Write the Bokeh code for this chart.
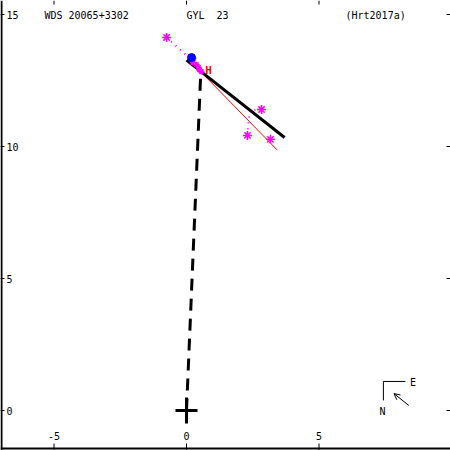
from bokeh.plotting import figure
from bokeh.models import Span, Arrow, OpenHead
from bokeh.core.properties import value
from bokeh.embed import file_html
from bokeh.resources import INLINE

# ---- data ----
title_labels = ["WDS 20065+3302", "GYL\u00a0\u00a023", "(Hrt2017a)"]
x_ticks = [-5, 0, 5]
y_ticks = [0, 5, 10, 15]

# observed positions (big asterisks) and their predicted positions (O-C lines)
obs_x = [-0.75, 2.83, 2.30, 3.17]
obs_y = [14.13, 11.40, 10.42, 10.27]
pred_x = [0.15, 2.55, 2.37, 3.35]
pred_y = [13.32, 11.38, 11.30, 10.36]

# cluster of observations near periastron
near_x = [0.26, 0.38, 0.49, 0.24, 0.45, 0.56]
near_y = [13.33, 13.10, 12.90, 13.18, 13.00, 12.84]

# first measurement (blue) and Hipparcos point (H)
first_x, first_y = [0.19], [13.37]
hip_x, hip_y = [0.83], [12.88]

# apparent orbit (edge-on), alternative orbit (red), line to periastron
orbit_x = [0.0, 3.70]
orbit_y = [13.27, 10.34]
alt_x = [0.50, 3.415]
alt_y = [12.87, 9.875]
node_x = [0.0, 0.53]
node_y = [0.0, 12.6]

# ---- layout ----
W = H = 450
PX, PY = 26.5, 26.4
x0 = -186 / PX
x1 = x0 + W / PX
y1 = 410 / PY
y0 = y1 - H / PY

FONT = value("DejaVu Sans Mono")

p = figure(width=W, height=H, x_range=(x0, x1), y_range=(y0, y1),
           output_backend="svg", toolbar_location=None,
           x_axis_location=None, y_axis_location=None, min_border=0)
p.grid.visible = False
p.outline_line_color = None
p.background_fill_color = "white"

# frame borders (left and bottom)
p.add_layout(Span(location=x0 + 1 / PX, dimension="height", line_color="black", line_width=2))
p.add_layout(Span(location=y0 + 2 / PY, dimension="width", line_color="black", line_width=2))

# ticks
p.segment(x0=[x0] * len(y_ticks), y0=y_ticks, x1=[x0 + 4 / PX] * len(y_ticks), y1=y_ticks,
          line_color="black", line_width=1)
p.segment(x0=[x1 - 4 / PX] * len(y_ticks), y0=y_ticks, x1=[x1] * len(y_ticks), y1=y_ticks,
          line_color="black", line_width=1)
p.segment(x0=x_ticks, y0=[y0] * len(x_ticks), x1=x_ticks, y1=[y0 + 7 / PY] * len(x_ticks),
          line_color="black", line_width=1)
p.segment(x0=x_ticks, y0=[y1 - 4 / PY] * len(x_ticks), x1=x_ticks, y1=[y1] * len(x_ticks),
          line_color="black", line_width=1)

# tick labels
p.text(x=[x0 + 6 / PX] * len(y_ticks), y=y_ticks, text=[str(v) for v in y_ticks],
       text_font=FONT, text_font_size="10px", text_baseline="middle", text_align="left",
       text_color="black")
p.text(x=x_ticks, y=[y0 + 15 / PY] * len(x_ticks), text=[str(v) for v in x_ticks],
       text_font=FONT, text_font_size="10px", text_baseline="middle", text_align="center",
       text_color="black")

# titles
p.text(x=[-5.36, 0.0, 6.0], y=[14.96] * 3, text=title_labels,
       text_font=FONT, text_font_size="10px", text_baseline="middle", text_align="left",
       text_color="black")

# line to periastron (dashed)
p.line(node_x, node_y, line_color="black", line_width=3, line_dash="12 8")

# alternative orbit (red thin)
p.line(alt_x, alt_y, line_color="red", line_width=1)

# orbit
p.line(orbit_x, orbit_y, line_color="black", line_width=3)

# O-C lines
p.segment(x0=obs_x, y0=obs_y, x1=pred_x, y1=pred_y, line_color="magenta",
          line_width=2, line_dash="1 5")

# observations
p.scatter(obs_x, obs_y, marker="asterisk", size=9, line_color="magenta", line_width=1.5)
p.scatter(near_x, near_y, marker="asterisk", size=6, line_color="magenta", line_width=1.5)
p.scatter(first_x, first_y, marker="circle", size=8, fill_color="blue", line_color="blue")
p.text(x=hip_x, y=hip_y, text=["H"], text_font=FONT, text_font_size="11px",
       text_font_style="bold", text_color="red", text_align="center", text_baseline="middle")

# origin cross
p.segment(x0=[-11 / PX], y0=[0], x1=[11 / PX], y1=[0], line_color="black", line_width=3)
p.segment(x0=[0], y0=[-13 / PY], x1=[0], y1=[13 / PY], line_color="black", line_width=3)

# compass
cx, cy = 7.43, 1.10
p.line([cx + 0.83, cx, cx], [cy, cy, cy - 0.72], line_color="black", line_width=1)
p.text(x=[cx + 1.12, cx - 0.03], y=[cy - 0.03, cy - 1.14], text=["E", "N"],
       text_font=FONT, text_font_size="10px", text_baseline="middle", text_align="center",
       text_color="black")
p.add_layout(Arrow(end=OpenHead(size=6, line_width=1, line_color="black"),
                   x_start=8.39, y_start=0.19, x_end=7.83, y_end=0.64,
                   line_color="black", line_width=1))

open("out.html", "w").write(file_html(p, INLINE))
